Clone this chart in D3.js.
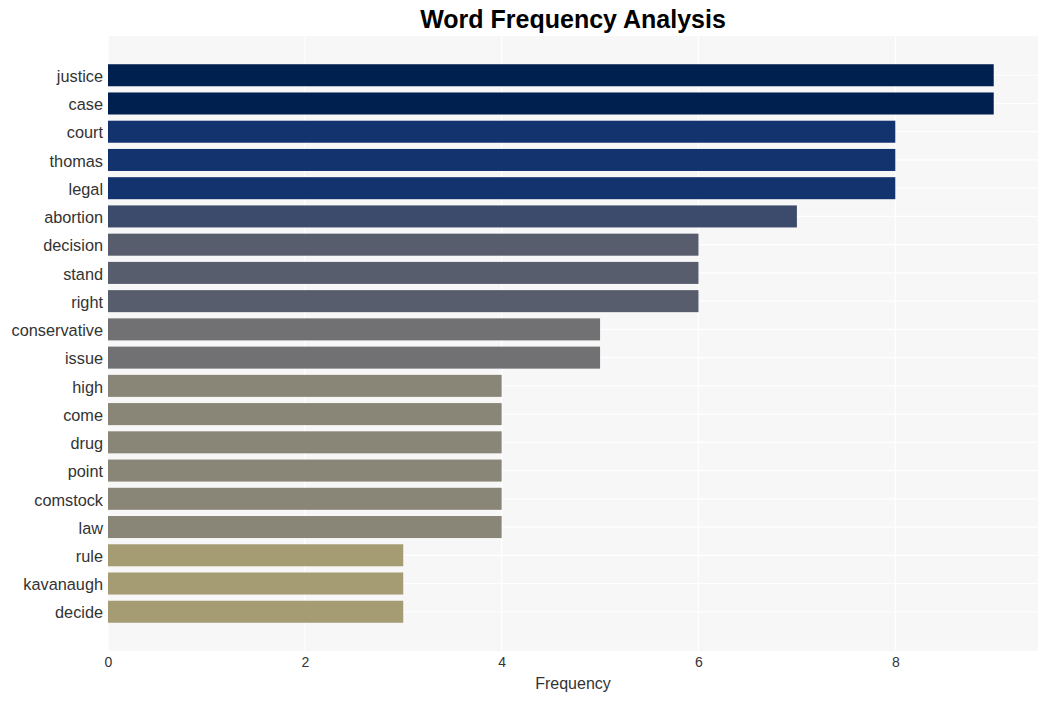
<!DOCTYPE html>
<html><head><meta charset="utf-8">
<script src="https://cdn.jsdelivr.net/npm/d3@7"></script>
<style>body{margin:0;background:#fff;} text{font-family:"Liberation Sans",Arial,sans-serif;}</style>
</head><body><svg id="c" width="1048" height="701"></svg>
<script>
const words = ["justice","case","court","thomas","legal","abortion","decision","stand","right","conservative","issue","high","come","drug","point","comstock","law","rule","kavanaugh","decide"];
const counts = [9,9,8,8,8,7,6,6,6,5,5,4,4,4,4,4,4,3,3,3];
const xTicks = [0,2,4,6,8];
const colorByCount = {9:"#00204f",8:"#13336e",7:"#3c4a6b",6:"#585d6d",5:"#717173",4:"#8a8677",3:"#a59c74"};

const svg = d3.select("#c");
const m = {l:108, r:1038, t:36, b:651};
const x = d3.scaleLinear().domain([0,9.45]).range([m.l,m.r]);
const y = d3.scaleBand().domain(words).range([m.t,m.b]).paddingInner(0.22).paddingOuter(1);

svg.append("rect").attr("x",m.l).attr("y",m.t).attr("width",m.r-m.l).attr("height",m.b-m.t).attr("fill","#f7f7f7");
// vertical grid
svg.append("g").selectAll("line").data(xTicks).join("line")
  .attr("x1",d=>x(d)).attr("x2",d=>x(d)).attr("y1",m.t).attr("y2",m.b)
  .attr("stroke","#ffffff").attr("stroke-width",1.2);
// horizontal grid
svg.append("g").selectAll("line").data(words).join("line")
  .attr("x1",m.l).attr("x2",m.r).attr("y1",d=>y(d)+y.bandwidth()/2).attr("y2",d=>y(d)+y.bandwidth()/2)
  .attr("stroke","#ffffff").attr("stroke-width",1.2);

svg.append("g").selectAll("rect").data(words).join("rect")
  .attr("x",x(0)).attr("y",d=>y(d)).attr("height",y.bandwidth())
  .attr("width",(d,i)=>x(counts[i])-x(0)).attr("fill",(d,i)=>colorByCount[counts[i]]);

// y labels
const ya = svg.append("g").attr("transform",`translate(${m.l},1.5)`).call(d3.axisLeft(y).tickSize(0).tickPadding(5));
ya.select(".domain").remove();
ya.selectAll("text").attr("font-size",16.3).attr("fill","#333").style("font-family","Liberation Sans, Arial, sans-serif");

const xa = svg.append("g").attr("transform",`translate(0,${m.b})`).call(d3.axisBottom(x).tickValues(xTicks).tickSize(0).tickPadding(6));
xa.select(".domain").remove();
xa.selectAll("text").attr("font-size",14).attr("fill","#333").style("font-family","Liberation Sans, Arial, sans-serif");

svg.append("text").attr("x",573).attr("y",689).attr("text-anchor","middle").attr("font-size",16).attr("fill","#333").text("Frequency");
svg.append("text").attr("x",573).attr("y",28).attr("text-anchor","middle").attr("font-size",25).attr("font-weight","bold").attr("fill","#000").text("Word Frequency Analysis");
</script></body></html>
